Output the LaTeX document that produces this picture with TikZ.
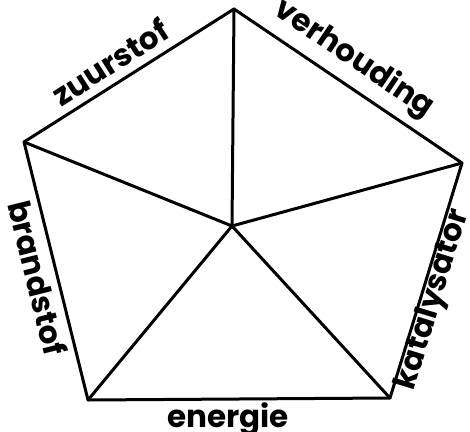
\documentclass[tikz,border=0pt]{standalone}
\usepackage{fontspec}
\setmainfont{Poppins}
\usetikzlibrary{positioning}

\begin{document}
\begin{tikzpicture}[x=0.5pt, y=-0.5pt,
	edge/.style={line width=1.5pt, line join=round, line cap=round},
	lbl/.style={font=\fontsize{15.5}{16}\selectfont\bfseries, inner sep=0pt}
]
	\useasboundingbox (0,0) rectangle (470,432);
	\coordinate (top) at (234,9);
	\coordinate (right) at (462,163);
	\coordinate (botr) at (390,398);
	\coordinate (botl) at (88,400);
	\coordinate (left) at (24,142);
	\coordinate (mid) at (232,226);
	\draw[edge] (top) -- (right) -- (botr) -- (botl) -- (left) -- cycle;
	\draw[edge] (mid) -- (top);
	\draw[edge] (mid) -- (right);
	\draw[edge] (mid) -- (botr);
	\draw[edge] (mid) -- (botl);
	\draw[edge] (mid) -- (left);
	\node[lbl, rotate=32.5] (zuur) at (110,62) {zuurstof};
	\node[lbl, rotate=-34] (verh) at (354,59) {verhouding};
	\node[lbl, rotate=73] (kata) at (434,300) {katalysator};
	\node[lbl, rotate=-76] (brand) at (38,278) {brandstof};
	\node[lbl] (ener) at (228,419) {energie};
\end{tikzpicture}
\end{document}
